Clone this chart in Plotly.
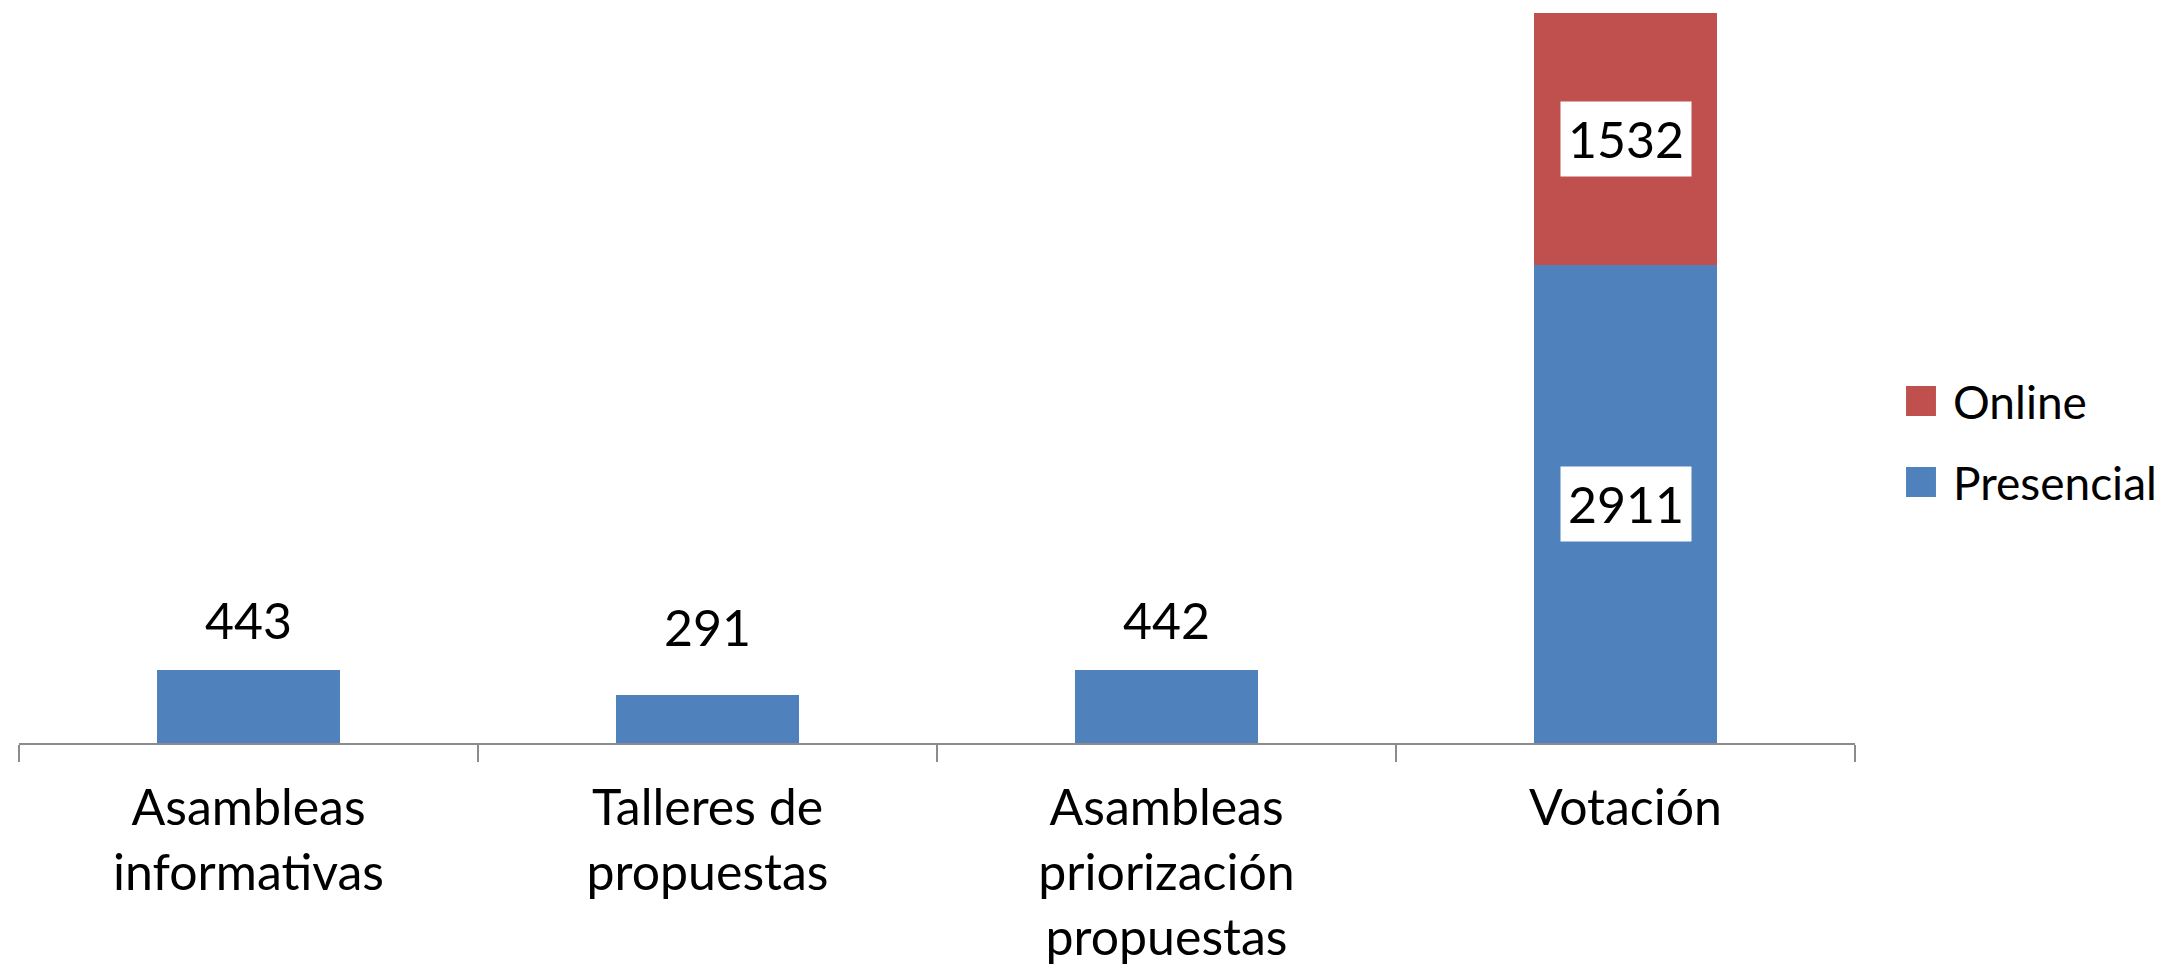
import plotly.graph_objects as go

categories = ["Asambleas<br>informativas", "Talleres de<br>propuestas",
              "Asambleas<br>priorización<br>propuestas", "Votación"]
presencial = [443, 291, 442, 2911]
online = [None, None, None, 1532]
single_label_shift = [50, 68, 50]

BLUE = "#4F81BD"
RED = "#C0504D"
FONT = "Lato, sans-serif"
FS = 50
LEG_FS = 46

fig = go.Figure()
fig.add_trace(go.Bar(name="Presencial", x=categories, y=presencial,
                     marker=dict(color=BLUE, line=dict(width=0)),
                     showlegend=False, width=0.4))
fig.add_trace(go.Bar(name="Online", x=categories, y=online,
                     marker=dict(color=RED, line=dict(width=0)),
                     showlegend=False, width=0.4))

# labels above single bars
for i in range(3):
    fig.add_annotation(x=categories[i], y=presencial[i], text=str(presencial[i]),
                       showarrow=False, yanchor="middle", yshift=single_label_shift[i],
                       font=dict(family=FONT, size=FS, color="black"))
# labels inside stacked bar, white background
i = 3
fig.add_annotation(x=categories[i], y=presencial[i] / 2, text=str(presencial[i]),
                   showarrow=False, yanchor="middle", bgcolor="white",
                   font=dict(family=FONT, size=FS, color="black"), borderpad=7)
fig.add_annotation(x=categories[i], y=presencial[i] + online[i] / 2, text=str(online[i]),
                   showarrow=False, yanchor="middle", bgcolor="white",
                   font=dict(family=FONT, size=FS, color="black"), borderpad=7)

# legend (drawn to match the large square swatches)
legend_items = [("Online", RED, 0.4857, 0.4449), ("Presencial", BLUE, 0.3755, 0.3347)]
for name, color, ytop, ybot in legend_items:
    fig.add_shape(type="rect", xref="paper", yref="paper",
                  x0=1.0278, x1=1.0441, y0=ybot, y1=ytop,
                  fillcolor=color, line=dict(width=0))
    fig.add_annotation(xref="paper", yref="paper", x=1.0525, y=(ytop + ybot) / 2,
                       xanchor="left", yanchor="middle", text=name, showarrow=False,
                       font=dict(family=FONT, size=LEG_FS, color="black"))

fig.update_layout(
    width=2175, height=960,
    barmode="stack",
    paper_bgcolor="white", plot_bgcolor="white",
    margin=dict(l=11, r=328, t=0, b=225, autoexpand=False),
    font=dict(family=FONT, size=FS, color="black"),
    showlegend=False,
)
fig.update_xaxes(type="category", showline=True, linecolor="#8c8c8c", linewidth=1.5,
                 ticks="outside", ticklen=17, tickcolor="#8c8c8c", tickwidth=1.5,
                 tickson="boundaries", showgrid=False, zeroline=False,
                 automargin=False, ticklabelstandoff=20,
                 tickfont=dict(family=FONT, size=FS, color="black"))
fig.update_yaxes(range=[0, 4473], visible=False, showgrid=False, zeroline=False,
                 automargin=False)

fig.write_html("out.html")
